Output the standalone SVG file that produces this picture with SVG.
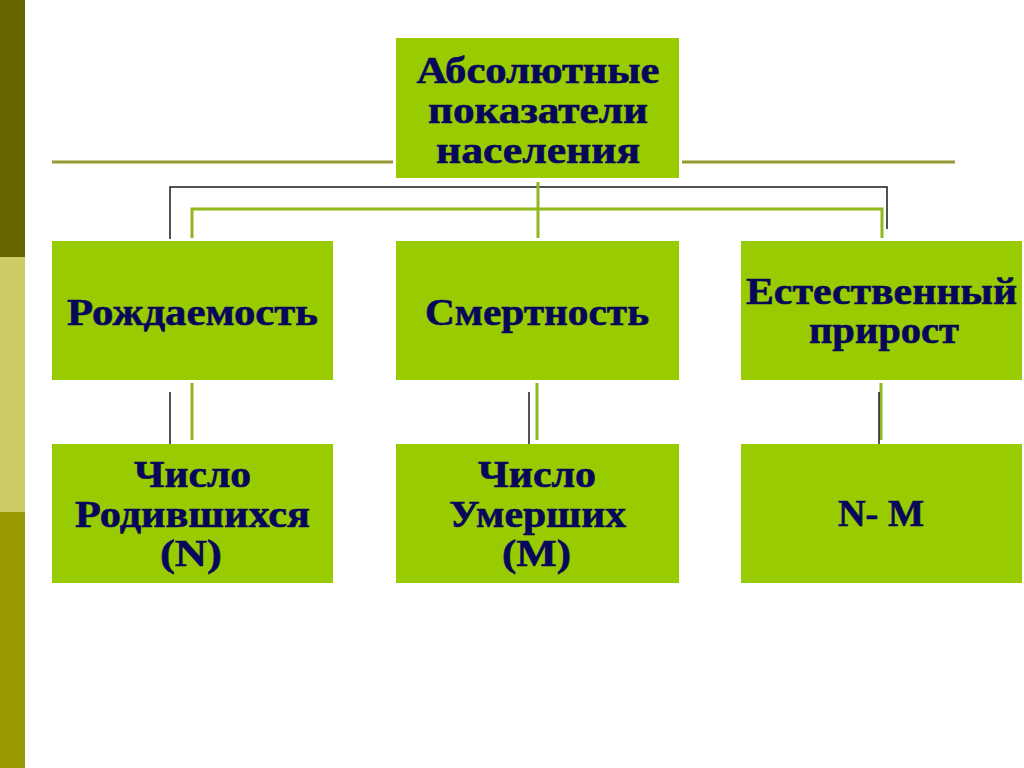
<svg xmlns="http://www.w3.org/2000/svg" width="1024" height="768" viewBox="0 0 1024 768">
<style>
.box{fill:#99cc00}
.t{font-family:"Liberation Serif","Times New Roman",serif;font-weight:bold;font-size:38px;fill:#08085a;stroke:#08085a;stroke-width:0.6;text-anchor:middle}
.blk{stroke:#1a1a1a;stroke-width:1.5;fill:none}
.grn{stroke:#8fb81a;stroke-width:3;fill:none}
.ol{stroke:#999933;stroke-width:3;fill:none}
</style>
<rect width="1024" height="768" fill="#fff"/>
<rect x="0" y="0" width="25" height="257" fill="#666600"/>
<rect x="0" y="257" width="25" height="255" fill="#cccc66"/>
<rect x="0" y="512" width="25" height="256" fill="#999900"/>
<line class="ol" x1="52" y1="162" x2="393" y2="162"/>
<line class="ol" x1="682" y1="162" x2="955" y2="162"/>
<g id="connectors">
<polyline class="blk" points="170,239 170,187 887,187 887,229"/>
<polyline class="grn" points="192,238 192,209 882,209 882,238"/>
<line class="grn" x1="538" y1="182" x2="538" y2="238"/>
<line class="grn" x1="192" y1="383" x2="192" y2="440"/>
<line class="blk" x1="170" y1="392" x2="170" y2="470"/>
<line class="grn" x1="537" y1="383" x2="537" y2="440"/>
<line class="blk" x1="529" y1="392" x2="529" y2="460"/>
<line class="grn" x1="881" y1="383" x2="881" y2="440"/>
<line class="blk" x1="879" y1="392" x2="879" y2="468"/>
</g>
<g id="top">
<rect class="box" x="396" y="38" width="283" height="140"/>
<text class="t" x="538" y="83" textLength="243" lengthAdjust="spacingAndGlyphs">Абсолютные</text>
<text class="t" x="538" y="123" textLength="220" lengthAdjust="spacingAndGlyphs">показатели</text>
<text class="t" x="538" y="163" textLength="204" lengthAdjust="spacingAndGlyphs">населения</text>
</g>
<g id="birth">
<rect class="box" x="52" y="241" width="281" height="139"/>
<text class="t" x="192.5" y="325" textLength="251" lengthAdjust="spacingAndGlyphs">Рождаемость</text>
</g>
<g id="death">
<rect class="box" x="396" y="241" width="283" height="139"/>
<text class="t" x="537" y="325" textLength="224" lengthAdjust="spacingAndGlyphs">Смертность</text>
</g>
<g id="natural">
<rect class="box" x="741" y="241" width="281" height="139"/>
<text class="t" x="881.5" y="304" textLength="271" lengthAdjust="spacingAndGlyphs">Естественный</text>
<text class="t" x="884" y="343" textLength="150" lengthAdjust="spacingAndGlyphs">прирост</text>
</g>
<g id="births">
<rect class="box" x="52" y="444" width="281" height="139"/>
<text class="t" x="192.5" y="487" textLength="117" lengthAdjust="spacingAndGlyphs">Число</text>
<text class="t" x="192.5" y="527" textLength="235" lengthAdjust="spacingAndGlyphs">Родившихся</text>
<text class="t" x="191" y="566" textLength="62" lengthAdjust="spacingAndGlyphs">(N)</text>
</g>
<g id="deaths">
<rect class="box" x="396" y="444" width="283" height="139"/>
<text class="t" x="537" y="487" textLength="118" lengthAdjust="spacingAndGlyphs">Число</text>
<text class="t" x="537.5" y="527" textLength="177" lengthAdjust="spacingAndGlyphs">Умерших</text>
<text class="t" x="536.5" y="566" textLength="69" lengthAdjust="spacingAndGlyphs">(M)</text>
</g>
<g id="diff">
<rect class="box" x="741" y="444" width="281" height="139"/>
<text class="t" x="881" y="526" textLength="86" lengthAdjust="spacingAndGlyphs">N- M</text>
</g>
</svg>
